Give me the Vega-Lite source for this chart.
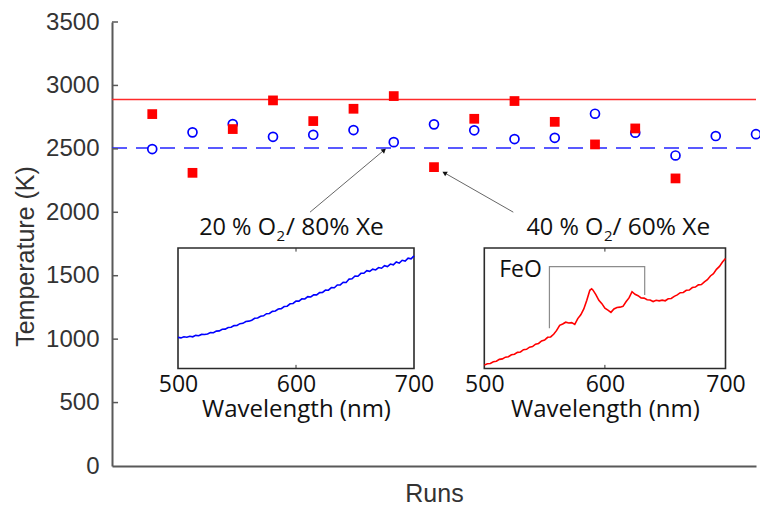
{
  "$schema": "https://vega.github.io/schema/vega-lite/v6.json",
  "width": 644,
  "height": 444,
  "autosize": {"type": "none"},
  "padding": {"left": 112, "top": 22, "right": 4, "bottom": 40},
  "background": "white",
  "config": {"view": {"stroke": null}},
  "datasets": {
    "red": [
      {"run": 1, "T": 2774}, {"run": 2, "T": 2311}, {"run": 3, "T": 2656}, {"run": 4, "T": 2882},
      {"run": 5, "T": 2719}, {"run": 6, "T": 2816}, {"run": 7, "T": 2916}, {"run": 8, "T": 2356},
      {"run": 9, "T": 2737}, {"run": 10, "T": 2877}, {"run": 11, "T": 2713}, {"run": 12, "T": 2535},
      {"run": 13, "T": 2661}, {"run": 14, "T": 2267}
    ],
    "blue": [
      {"run": 1, "T": 2498}, {"run": 2, "T": 2630}, {"run": 3, "T": 2695}, {"run": 4, "T": 2595},
      {"run": 5, "T": 2611}, {"run": 6, "T": 2648}, {"run": 7, "T": 2553}, {"run": 8, "T": 2693},
      {"run": 9, "T": 2646}, {"run": 10, "T": 2577}, {"run": 11, "T": 2587}, {"run": 12, "T": 2777},
      {"run": 13, "T": 2627}, {"run": 14, "T": 2448}, {"run": 15, "T": 2601}, {"run": 16, "T": 2616}
    ],
    "means": [
      {"series": "40", "x": 0, "x2": 16, "T": 2890},
      {"series": "20", "x": 0, "x2": 16, "T": 2506}
    ],
    "yticks": [
      {"x": 0, "x2": 0.15, "T": 500}, {"x": 0, "x2": 0.15, "T": 1000}, {"x": 0, "x2": 0.15, "T": 1500},
      {"x": 0, "x2": 0.15, "T": 2000}, {"x": 0, "x2": 0.15, "T": 2500}, {"x": 0, "x2": 0.15, "T": 3000},
      {"x": 0, "x2": 0.15, "T": 3500}
    ],
    "arrows": [
      {"x": 4.92, "y": 2001, "x2": 6.76, "y2": 2490},
      {"x": 9.97, "y": 2001, "x2": 8.26, "y2": 2311}
    ],
    "frame": [{"a": 500, "b": 700, "lo": 0, "hi": 1}],
    "innerticks": [
      {"nm": 600, "lo": 0, "hi": 0.03},
      {"nm": 600, "lo": 0.97, "hi": 1}
    ],
    "spec20": [
      {"nm": 500, "v": 0.258}, {"nm": 502.5, "v": 0.254}, {"nm": 505, "v": 0.263}, {"nm": 507.5, "v": 0.259},
      {"nm": 510, "v": 0.268}, {"nm": 512.5, "v": 0.263}, {"nm": 515, "v": 0.275}, {"nm": 517.5, "v": 0.272},
      {"nm": 520, "v": 0.283}, {"nm": 522.5, "v": 0.282}, {"nm": 525, "v": 0.287}, {"nm": 527.5, "v": 0.298},
      {"nm": 530, "v": 0.297}, {"nm": 532.5, "v": 0.31}, {"nm": 535, "v": 0.312}, {"nm": 537.5, "v": 0.326},
      {"nm": 540, "v": 0.327}, {"nm": 542.5, "v": 0.34}, {"nm": 545, "v": 0.342}, {"nm": 547.5, "v": 0.356},
      {"nm": 550, "v": 0.357}, {"nm": 552.5, "v": 0.372}, {"nm": 555, "v": 0.375}, {"nm": 557.5, "v": 0.39},
      {"nm": 560, "v": 0.393}, {"nm": 562.5, "v": 0.401}, {"nm": 565, "v": 0.417}, {"nm": 567.5, "v": 0.419},
      {"nm": 570, "v": 0.434}, {"nm": 572.5, "v": 0.437}, {"nm": 575, "v": 0.455}, {"nm": 577.5, "v": 0.457},
      {"nm": 580, "v": 0.474}, {"nm": 582.5, "v": 0.477}, {"nm": 585, "v": 0.494}, {"nm": 587.5, "v": 0.497},
      {"nm": 590, "v": 0.514}, {"nm": 592.5, "v": 0.517}, {"nm": 595, "v": 0.537}, {"nm": 597.5, "v": 0.54},
      {"nm": 600, "v": 0.56}, {"nm": 602.5, "v": 0.559}, {"nm": 605, "v": 0.578}, {"nm": 607.5, "v": 0.577},
      {"nm": 610, "v": 0.596}, {"nm": 612.5, "v": 0.594}, {"nm": 615, "v": 0.612}, {"nm": 617.5, "v": 0.611},
      {"nm": 620, "v": 0.63}, {"nm": 622.5, "v": 0.631}, {"nm": 625, "v": 0.651}, {"nm": 627.5, "v": 0.65},
      {"nm": 630, "v": 0.671}, {"nm": 632.5, "v": 0.67}, {"nm": 635, "v": 0.693}, {"nm": 637.5, "v": 0.694},
      {"nm": 640, "v": 0.716}, {"nm": 642.5, "v": 0.714}, {"nm": 645, "v": 0.742}, {"nm": 647.5, "v": 0.745},
      {"nm": 650, "v": 0.768}, {"nm": 652.5, "v": 0.766}, {"nm": 655, "v": 0.79}, {"nm": 657.5, "v": 0.79},
      {"nm": 660, "v": 0.812}, {"nm": 662.5, "v": 0.806}, {"nm": 665, "v": 0.824}, {"nm": 667.5, "v": 0.818},
      {"nm": 670, "v": 0.838}, {"nm": 672.5, "v": 0.832}, {"nm": 675, "v": 0.853}, {"nm": 677.5, "v": 0.846},
      {"nm": 680, "v": 0.867}, {"nm": 682.5, "v": 0.86}, {"nm": 685, "v": 0.884}, {"nm": 687.5, "v": 0.874},
      {"nm": 690, "v": 0.898}, {"nm": 692.5, "v": 0.892}, {"nm": 695, "v": 0.916}, {"nm": 697.5, "v": 0.91},
      {"nm": 700, "v": 0.935}
    ],
    "spec40": [
      {"nm": 500, "v": 0.028}, {"nm": 502.5, "v": 0.04}, {"nm": 505, "v": 0.042}, {"nm": 507.5, "v": 0.056},
      {"nm": 510, "v": 0.06}, {"nm": 512.5, "v": 0.076}, {"nm": 515, "v": 0.08}, {"nm": 517.5, "v": 0.094},
      {"nm": 520, "v": 0.098}, {"nm": 522.5, "v": 0.114}, {"nm": 525, "v": 0.118}, {"nm": 527.5, "v": 0.134},
      {"nm": 530, "v": 0.137}, {"nm": 532.5, "v": 0.156}, {"nm": 535, "v": 0.159}, {"nm": 537.5, "v": 0.177},
      {"nm": 540, "v": 0.182}, {"nm": 542.5, "v": 0.202}, {"nm": 545, "v": 0.208}, {"nm": 547.5, "v": 0.229},
      {"nm": 550, "v": 0.236}, {"nm": 552.5, "v": 0.259}, {"nm": 555, "v": 0.262}, {"nm": 557.5, "v": 0.284},
      {"nm": 560, "v": 0.316}, {"nm": 562.5, "v": 0.358}, {"nm": 565, "v": 0.369}, {"nm": 567.5, "v": 0.384},
      {"nm": 570, "v": 0.378}, {"nm": 572.5, "v": 0.381}, {"nm": 575, "v": 0.366}, {"nm": 577.5, "v": 0.414},
      {"nm": 580, "v": 0.446}, {"nm": 582.5, "v": 0.494}, {"nm": 585, "v": 0.566}, {"nm": 587.5, "v": 0.649},
      {"nm": 589, "v": 0.662}, {"nm": 590, "v": 0.652}, {"nm": 592.5, "v": 0.613}, {"nm": 595, "v": 0.566},
      {"nm": 597.5, "v": 0.538}, {"nm": 600, "v": 0.501}, {"nm": 602.5, "v": 0.484}, {"nm": 605, "v": 0.466},
      {"nm": 607.5, "v": 0.494}, {"nm": 610, "v": 0.506}, {"nm": 612.5, "v": 0.509}, {"nm": 615, "v": 0.516},
      {"nm": 617.5, "v": 0.554}, {"nm": 620, "v": 0.586}, {"nm": 622.5, "v": 0.637}, {"nm": 625, "v": 0.616},
      {"nm": 627.5, "v": 0.604}, {"nm": 630, "v": 0.586}, {"nm": 632.5, "v": 0.584}, {"nm": 635, "v": 0.571},
      {"nm": 637.5, "v": 0.569}, {"nm": 640, "v": 0.556}, {"nm": 642.5, "v": 0.566}, {"nm": 645, "v": 0.561},
      {"nm": 647.5, "v": 0.567}, {"nm": 650, "v": 0.562}, {"nm": 652.5, "v": 0.579}, {"nm": 655, "v": 0.581},
      {"nm": 657.5, "v": 0.599}, {"nm": 660, "v": 0.611}, {"nm": 662.5, "v": 0.629}, {"nm": 665, "v": 0.631},
      {"nm": 667.5, "v": 0.649}, {"nm": 670, "v": 0.651}, {"nm": 672.5, "v": 0.672}, {"nm": 675, "v": 0.676},
      {"nm": 677.5, "v": 0.694}, {"nm": 680, "v": 0.697}, {"nm": 682.5, "v": 0.719}, {"nm": 685, "v": 0.737},
      {"nm": 687.5, "v": 0.768}, {"nm": 690, "v": 0.787}, {"nm": 692.5, "v": 0.823}, {"nm": 695, "v": 0.847},
      {"nm": 697.5, "v": 0.883}, {"nm": 700, "v": 0.913}
    ],
    "feo": [
      {"i": 1, "nm": 554, "v": 0.334}, {"i": 2, "nm": 554, "v": 0.845},
      {"i": 3, "nm": 633, "v": 0.845}, {"i": 4, "nm": 633, "v": 0.61}
    ]
  },
  "layer": [
    {
      "layer": [
        {
          "data": {"name": "means"},
          "transform": [{"filter": "datum.series == '40'"}],
          "mark": {"type": "rule", "color": "#ff2a2a", "strokeWidth": 1.5},
          "encoding": {
            "x": {"field": "x", "type": "quantitative", "scale": {"domain": [0, 16], "nice": false},
              "axis": {"title": "Runs", "labels": false, "ticks": false, "grid": false, "domainColor": "#595959", "domainWidth": 2,
                "titleFont": "Liberation Sans", "titleFontSize": 25, "titleFontWeight": "normal", "titleColor": "#333333",
                "titleY": 35, "titleBaseline": "alphabetic"}},
            "x2": {"field": "x2"},
            "y": {"field": "T", "type": "quantitative", "scale": {"domain": [0, 3500], "nice": false},
              "axis": {"title": "Temperature (K)", "values": [0, 500, 1000, 1500, 2000, 2500, 3000, 3500], "format": "d", "grid": false,
                "ticks": false, "domainColor": "#595959", "domainWidth": 2,
                "labelFont": "Liberation Sans", "labelFontSize": 24, "labelColor": "#333333", "labelPadding": 13,
                "labelFlush": false, "labelOverlap": false,
                "titleFont": "Liberation Sans", "titleFontSize": 25, "titleFontWeight": "normal", "titleColor": "#333333",
                "titleX": -79, "titleY": 234, "titleBaseline": "alphabetic"}}
          }
        },
        {
          "data": {"name": "means"},
          "transform": [{"filter": "datum.series == '20'"}],
          "mark": {"type": "rule", "color": "#2323ff", "strokeWidth": 1.5, "strokeDash": [15, 9]},
          "encoding": {
            "x": {"field": "x", "type": "quantitative"},
            "x2": {"field": "x2"},
            "y": {"field": "T", "type": "quantitative"}
          }
        },
        {
          "data": {"name": "yticks"},
          "mark": {"type": "rule", "color": "#595959", "strokeWidth": 1.5},
          "encoding": {
            "x": {"field": "x", "type": "quantitative"},
            "x2": {"field": "x2"},
            "y": {"field": "T", "type": "quantitative"}
          }
        },
        {
          "data": {"name": "blue"},
          "mark": {"type": "point", "shape": "circle", "filled": true, "fill": "white", "stroke": "#0000ff", "strokeWidth": 1.7, "size": 80, "opacity": 1},
          "encoding": {
            "x": {"field": "run", "type": "quantitative"},
            "y": {"field": "T", "type": "quantitative"}
          }
        },
        {
          "data": {"name": "red"},
          "mark": {"type": "point", "shape": "square", "filled": true, "color": "#ff0000", "size": 95, "opacity": 1},
          "encoding": {
            "x": {"field": "run", "type": "quantitative"},
            "y": {"field": "T", "type": "quantitative"}
          }
        },
        {
          "data": {"name": "arrows"},
          "mark": {"type": "rule", "color": "#555555", "strokeWidth": 0.9},
          "encoding": {
            "x": {"field": "x", "type": "quantitative"},
            "y": {"field": "y", "type": "quantitative"},
            "x2": {"field": "x2"},
            "y2": {"field": "y2"}
          }
        },
        {
          "data": {"values": [{"x2": 6.76, "y2": 2490}]},
          "mark": {"type": "point", "shape": "triangle-up", "filled": true, "color": "#111111", "size": 28, "angle": 50, "opacity": 1},
          "encoding": {
            "x": {"field": "x2", "type": "quantitative"},
            "y": {"field": "y2", "type": "quantitative"}
          }
        },
        {
          "data": {"values": [{"x2": 8.26, "y2": 2311}]},
          "mark": {"type": "point", "shape": "triangle-up", "filled": true, "color": "#111111", "size": 28, "angle": 299, "opacity": 1},
          "encoding": {
            "x": {"field": "x2", "type": "quantitative"},
            "y": {"field": "y2", "type": "quantitative"}
          }
        }
      ]
    },
    {
      "layer": [
        {
          "data": {"name": "frame"},
          "mark": {"type": "rect", "filled": false, "stroke": "#2b2b2b", "strokeWidth": 1.6},
          "encoding": {
            "x": {"field": "a", "type": "quantitative", "scale": {"domain": [500, 700], "range": [66, 302], "nice": false, "zero": false},
              "axis": {"orient": "bottom", "offset": -97.5, "values": [500, 600, 700], "ticks": false, "domain": false, "grid": false,
                "labelFont": "Open Sans", "labelFontSize": 23, "labelColor": "#111111", "labelBaseline": "alphabetic", "labelPadding": 23,
                "labelFlush": false, "labelOverlap": false,
                "title": "Wavelength (nm)", "titleFont": "Open Sans", "titleFontSize": 24, "titleFontWeight": "normal", "titleColor": "#111111",
                "titleBaseline": "alphabetic", "titleY": 47.5}},
            "x2": {"field": "b"},
            "y": {"field": "lo", "type": "quantitative", "scale": {"domain": [0, 1], "range": [346.5, 226], "nice": false, "zero": false}, "axis": null},
            "y2": {"field": "hi"}
          }
        },
        {
          "data": {"name": "innerticks"},
          "mark": {"type": "rule", "color": "#333333", "strokeWidth": 1},
          "encoding": {"x": {"field": "nm", "type": "quantitative"}, "y": {"field": "lo", "type": "quantitative"}, "y2": {"field": "hi"}}
        },
        {
          "data": {"name": "spec20"},
          "mark": {"type": "line", "color": "#0000ff", "strokeWidth": 1.6},
          "encoding": {
            "x": {"field": "nm", "type": "quantitative"},
            "y": {"field": "v", "type": "quantitative"}
          }
        },
        {
          "data": {"values": [{"nm": 583, "v": 1.108, "t": "20 % O"}]},
          "mark": {"type": "text", "align": "right", "baseline": "alphabetic", "font": "Open Sans", "fontSize": 23.5, "color": "#111111"},
          "encoding": {"x": {"field": "nm", "type": "quantitative"}, "y": {"field": "v", "type": "quantitative"}, "text": {"field": "t"}}
        },
        {
          "data": {"values": [{"nm": 583.5, "v": 1.058, "t": "2"}]},
          "mark": {"type": "text", "align": "left", "baseline": "alphabetic", "font": "Open Sans", "fontSize": 15, "color": "#111111"},
          "encoding": {"x": {"field": "nm", "type": "quantitative"}, "y": {"field": "v", "type": "quantitative"}, "text": {"field": "t"}}
        },
        {
          "data": {"values": [{"nm": 591.5, "v": 1.108, "t": "/ 80% Xe"}]},
          "mark": {"type": "text", "align": "left", "baseline": "alphabetic", "font": "Open Sans", "fontSize": 24.5, "color": "#111111"},
          "encoding": {"x": {"field": "nm", "type": "quantitative"}, "y": {"field": "v", "type": "quantitative"}, "text": {"field": "t"}}
        }
      ]
    },
    {
      "layer": [
        {
          "data": {"name": "frame"},
          "mark": {"type": "rect", "filled": false, "stroke": "#2b2b2b", "strokeWidth": 1.6},
          "encoding": {
            "x": {"field": "a", "type": "quantitative", "scale": {"domain": [500, 700], "range": [372.3, 613.5], "nice": false, "zero": false},
              "axis": {"orient": "bottom", "offset": -97.5, "values": [500, 600, 700], "ticks": false, "domain": false, "grid": false,
                "labelFont": "Open Sans", "labelFontSize": 23, "labelColor": "#111111", "labelBaseline": "alphabetic", "labelPadding": 23,
                "labelFlush": false, "labelOverlap": false,
                "title": "Wavelength (nm)", "titleFont": "Open Sans", "titleFontSize": 24, "titleFontWeight": "normal", "titleColor": "#111111",
                "titleBaseline": "alphabetic", "titleY": 47.5}},
            "x2": {"field": "b"},
            "y": {"field": "lo", "type": "quantitative", "scale": {"domain": [0, 1], "range": [346.5, 226], "nice": false, "zero": false}, "axis": null},
            "y2": {"field": "hi"}
          }
        },
        {
          "data": {"name": "innerticks"},
          "mark": {"type": "rule", "color": "#333333", "strokeWidth": 1},
          "encoding": {"x": {"field": "nm", "type": "quantitative"}, "y": {"field": "lo", "type": "quantitative"}, "y2": {"field": "hi"}}
        },
        {
          "data": {"name": "feo"},
          "mark": {"type": "line", "color": "#8c8c8c", "strokeWidth": 1.2},
          "encoding": {"x": {"field": "nm", "type": "quantitative"}, "y": {"field": "v", "type": "quantitative"}, "order": {"field": "i"}}
        },
        {
          "data": {"name": "spec40"},
          "mark": {"type": "line", "color": "#ff0000", "strokeWidth": 1.6},
          "encoding": {
            "x": {"field": "nm", "type": "quantitative"},
            "y": {"field": "v", "type": "quantitative"}
          }
        },
        {
          "data": {"values": [{"nm": 530, "v": 0.762, "t": "FeO"}]},
          "mark": {"type": "text", "align": "center", "baseline": "alphabetic", "font": "Open Sans", "fontSize": 23, "color": "#111111"},
          "encoding": {"x": {"field": "nm", "type": "quantitative"}, "y": {"field": "v", "type": "quantitative"}, "text": {"field": "t"}}
        },
        {
          "data": {"values": [{"nm": 598.6, "v": 1.108, "t": "40 % O"}]},
          "mark": {"type": "text", "align": "right", "baseline": "alphabetic", "font": "Open Sans", "fontSize": 23.5, "color": "#111111"},
          "encoding": {"x": {"field": "nm", "type": "quantitative"}, "y": {"field": "v", "type": "quantitative"}, "text": {"field": "t"}}
        },
        {
          "data": {"values": [{"nm": 599.2, "v": 1.058, "t": "2"}]},
          "mark": {"type": "text", "align": "left", "baseline": "alphabetic", "font": "Open Sans", "fontSize": 15, "color": "#111111"},
          "encoding": {"x": {"field": "nm", "type": "quantitative"}, "y": {"field": "v", "type": "quantitative"}, "text": {"field": "t"}}
        },
        {
          "data": {"values": [{"nm": 606.2, "v": 1.108, "t": "/ 60% Xe"}]},
          "mark": {"type": "text", "align": "left", "baseline": "alphabetic", "font": "Open Sans", "fontSize": 24.5, "color": "#111111"},
          "encoding": {"x": {"field": "nm", "type": "quantitative"}, "y": {"field": "v", "type": "quantitative"}, "text": {"field": "t"}}
        }
      ]
    }
  ],
  "resolve": {"scale": {"x": "independent", "y": "independent"}, "axis": {"x": "independent", "y": "independent"}}
}
